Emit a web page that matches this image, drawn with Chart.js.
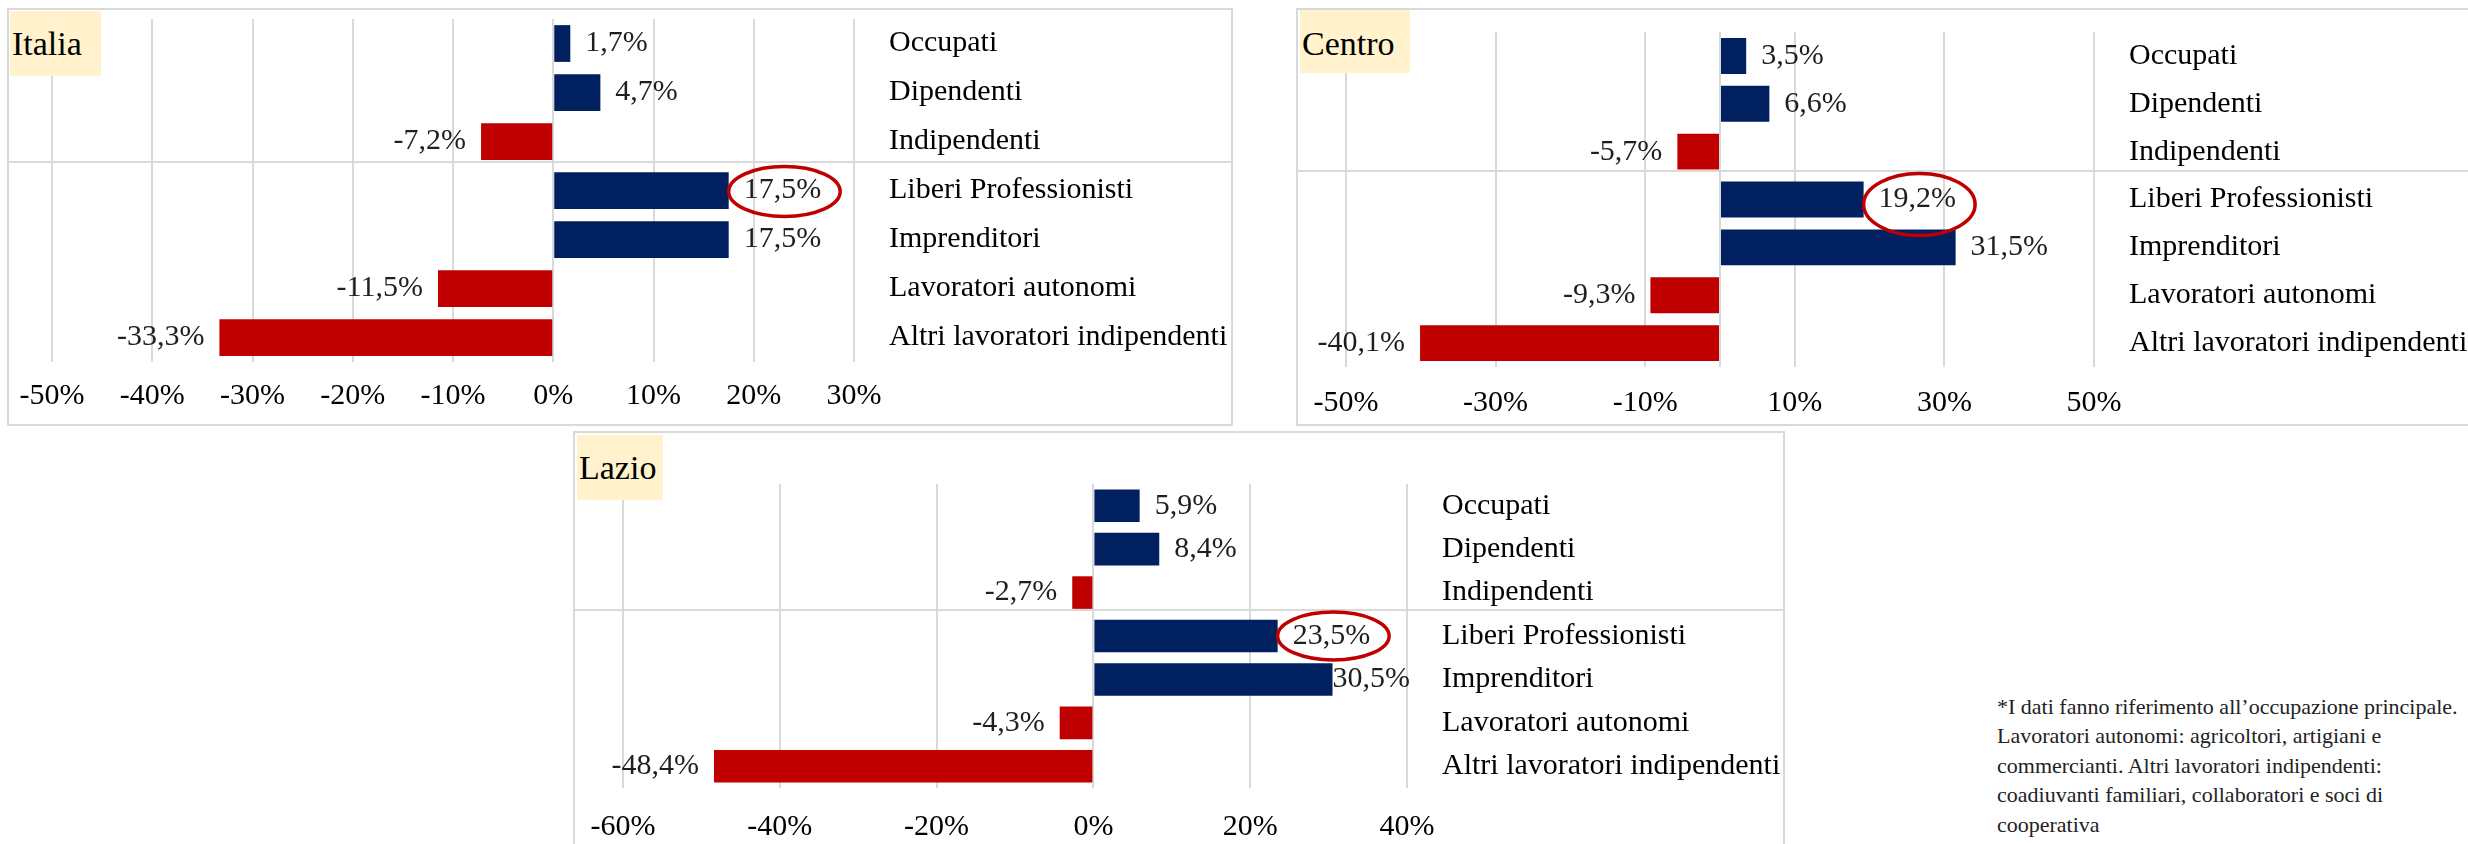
<!DOCTYPE html>
<html>
<head>
<meta charset="utf-8">
<script src="https://cdn.jsdelivr.net/npm/chart.js@4.4.0/dist/chart.umd.min.js"></script>
<style>
  body { margin: 0; background: #fff; width: 2468px; height: 844px; overflow: hidden; position: relative;
         font-family: "Liberation Serif", "DejaVu Serif", serif; }
  .panel { position: absolute; border: 2px solid #d9d9d9; box-sizing: border-box; background: #fff; }
  .panel canvas { position: absolute; left: 0; top: 0; }
  .tag { position: absolute; background: #fff2cc; font-size: 34px; color: #000; padding-left: 2px; box-sizing: border-box; }
  .note { position: absolute; left: 1997px; top: 692px; font-size: 22px; line-height: 29.4px; color: #222; white-space: nowrap; }
</style>
</head>
<body>

<div class="panel" style="left:7px;top:8px;width:1226px;height:418px">
  <canvas id="italia" width="1222" height="414"></canvas>
  <div class="tag" style="left:1px;top:1px;width:91px;height:65px;line-height:65px">Italia</div>
</div>

<div class="panel" style="left:1296px;top:8px;width:1180px;height:418px">
  <canvas id="centro" width="1176" height="414"></canvas>
  <div class="tag" style="left:2px;top:0px;width:110px;height:63px;line-height:67px">Centro</div>
</div>

<div class="panel" style="left:573px;top:431px;width:1212px;height:434px">
  <canvas id="lazio" width="1208" height="430"></canvas>
  <div class="tag" style="left:2px;top:2px;width:86px;height:65px;line-height:65px">Lazio</div>
</div>

<div class="note">*I dati fanno riferimento all’occupazione principale.<br>Lavoratori autonomi: agricoltori, artigiani e<br>commercianti. Altri lavoratori indipendenti:<br>coadiuvanti familiari, collaboratori e soci di<br>cooperativa</div>

<script>
// dati (variazioni %)
const categories = ['Occupati', 'Dipendenti', 'Indipendenti', 'Liberi Professionisti',
                    'Imprenditori', 'Lavoratori autonomi', 'Altri lavoratori indipendenti'];
const italiaValues = [1.7, 4.7, -7.2, 17.5, 17.5, -11.5, -33.3];
const centroValues = [3.5, 6.6, -5.7, 19.2, 31.5, -9.3, -40.1];
const lazioValues  = [5.9, 8.4, -2.7, 23.5, 30.5, -4.3, -48.4];
const italiaTicks = [-50, -40, -30, -20, -10, 0, 10, 20, 30];
const centroTicks = [-50, -30, -10, 10, 30, 50];
const lazioTicks  = [-60, -40, -20, 0, 20, 40];
const highlightIdx = 3;   // Liberi Professionisti cerchiato
const splitAfter   = 2;   // linea tra Indipendenti e Liberi Professionisti

const NAVY = '#002060', RED = '#c00000', GRID = '#d9d9d9';
const FONT = '"Liberation Serif", "DejaVu Serif", serif';
const fmt = v => v.toFixed(1).replace('.', ',') + '%';

const decorPlugin = {
  id: 'decor',
  afterDatasetsDraw(chart, args, opts) {
    const { ctx, chartArea, scales: { y } } = chart;
    const bars = chart.getDatasetMeta(0).data;
    const vals = chart.data.datasets[0].data;
    ctx.save();

    // separatore orizzontale su tutta la larghezza del riquadro
    const p0 = y.getPixelForValue(splitAfter), p1 = y.getPixelForValue(splitAfter + 1);
    const sy = Math.round(p0 + 0.41 * (p1 - p0));
    ctx.strokeStyle = GRID; ctx.lineWidth = 2;
    ctx.beginPath(); ctx.moveTo(0, sy); ctx.lineTo(chart.width, sy); ctx.stroke();

    // etichette dei valori
    ctx.font = '30px ' + FONT;
    ctx.fillStyle = '#1f1f1f';
    ctx.textBaseline = 'middle';
    bars.forEach((bar, i) => {
      const v = vals[i], txt = fmt(v), w = ctx.measureText(txt).width;
      let tx;
      if (v >= 0) {
        tx = bar.x + 15;
        if (tx + w > chartArea.right + 3) tx = chartArea.right + 3 - w;
      } else {
        tx = bar.x - 15 - w;
      }
      ctx.textAlign = 'left';
      ctx.fillText(txt, tx, bar.y);

      if (i === highlightIdx) {
        ctx.strokeStyle = RED; ctx.lineWidth = 3.5;
        ctx.beginPath();
        ctx.ellipse(tx + w / 2 + 2, bar.y + opts.dy, w / 2 + 17, opts.ry, 0, 0, Math.PI * 2);
        ctx.stroke();
      }
    });
    ctx.restore();
  }
};

function drawPanel(p) {
  const gridVals = [...new Set([...p.ticks, 0])].sort((a, b) => a - b);
  new Chart(document.getElementById(p.id), {
    type: 'bar',
    data: {
      labels: categories,
      datasets: [{
        data: p.values,
        backgroundColor: p.values.map(v => v < 0 ? RED : NAVY),
        categoryPercentage: 1,
        barPercentage: 0.75,
        borderWidth: 0
      }]
    },
    options: {
      indexAxis: 'y',
      responsive: false,
      animation: false,
      events: [],
      layout: { padding: { left: p.padL, top: p.padT, right: 0, bottom: 0 } },
      plugins: { legend: { display: false }, tooltip: { enabled: false }, decor: p.ell },
      scales: {
        x: {
          type: 'linear',
          min: p.ticks[0],
          max: p.ticks[p.ticks.length - 1],
          afterBuildTicks: s => { s.ticks = gridVals.map(v => ({ value: v })); },
          afterFit: s => { s.height = p.axisH; s.paddingLeft = 0; s.paddingRight = 0; },
          grid: { color: GRID, lineWidth: 2, drawTicks: false },
          border: { display: false },
          ticks: {
            autoSkip: false, maxRotation: 0, padding: p.tickPad, color: '#000',
            font: { family: FONT, size: 30 },
            callback: v => p.ticks.includes(v) ? v + '%' : ''
          }
        },
        y: {
          position: 'right',
          afterFit: s => { s.width = p.axisW; s.paddingTop = 0; s.paddingBottom = 0; },
          grid: { display: false },
          border: { display: false },
          ticks: { crossAlign: 'near', padding: 27, color: '#000', font: { family: FONT, size: 30 } }
        }
      }
    },
    plugins: [decorPlugin]
  });
}

[
  { id: 'italia', values: italiaValues, ticks: italiaTicks, padL: 43, padT: 9,  axisW: 377, axisH: 62, tickPad: 16, ell: { dy: 1, ry: 25 } },
  { id: 'centro', values: centroValues, ticks: centroTicks, padL: 48, padT: 22, axisW: 380, axisH: 57, tickPad: 18, ell: { dy: 5, ry: 31 } },
  { id: 'lazio',  values: lazioValues,  ticks: lazioTicks,  padL: 48, padT: 51, axisW: 376, axisH: 75, tickPad: 21, ell: { dy: 0, ry: 24 } }
].forEach(drawPanel);
</script>
</body>
</html>
